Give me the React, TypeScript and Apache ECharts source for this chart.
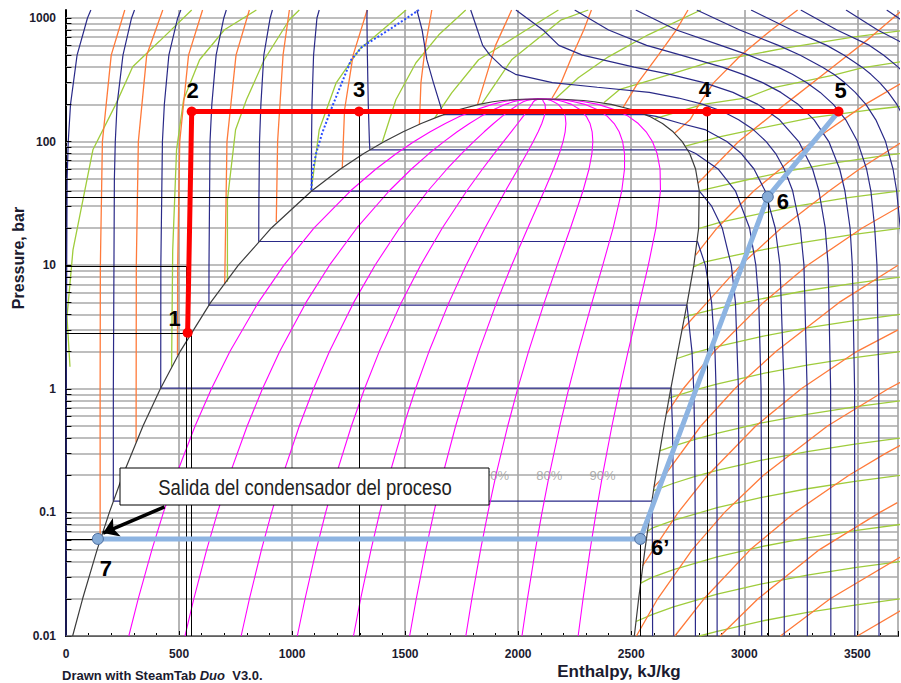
import React, { useEffect, useRef } from "react";
import * as echarts from "echarts";

const FONT = '"Liberation Sans", Arial, Helvetica, sans-serif';

// ---------------- axes ----------------
const H_MIN = 0;
const H_MAX = 3680;
const P_MIN = 0.01;
const P_MAX = 1160;
const xTickStep = 500;
const yLabelValues = [0.01, 0.1, 1, 10, 100, 1000];
const yLabelTexts = ["0.01", "0.1", "1", "10", "100", "1000"];
const yGridValues = [
  0.01, 0.02, 0.03, 0.04, 0.05, 0.06, 0.07, 0.08, 0.09,
  0.1, 0.2, 0.3, 0.4, 0.5, 0.6, 0.7, 0.8, 0.9,
  1, 2, 3, 4, 5, 6, 7, 8, 9,
  10, 20, 30, 40, 50, 60, 70, 80, 90,
  100, 200, 300, 400, 500, 600, 700, 800, 900,
  1000,
];

// ---------------- saturation dome (P bar, hf, hg kJ/kg) ----------------
const satP = [0.01, 0.02, 0.05, 0.1, 0.2, 0.5, 1, 2, 5, 10, 20, 40, 60, 80, 100, 120, 140, 160, 180, 200, 210, 215, 220, 220.64];
const satHf = [29.3, 73.4, 137.8, 191.8, 251.4, 340.5, 417.5, 504.7, 640.1, 762.5, 908.5, 1087.4, 1213.9, 1317.1, 1408.1, 1491.5, 1571.0, 1649.4, 1732.0, 1826.6, 1888, 1930, 2016, 2084];
const satHg = [2513.7, 2532.9, 2560.7, 2583.9, 2608.9, 2645.2, 2674.9, 2706.2, 2748.1, 2777.1, 2798.3, 2800.8, 2784.6, 2758.7, 2725.5, 2685.4, 2638.1, 2580.8, 2509.5, 2411.4, 2336, 2289, 2196, 2084];
const qualities = [0.1, 0.2, 0.3, 0.4, 0.5, 0.6, 0.7, 0.8, 0.9];
const qualityLabelP = 0.2;

// ---------------- isotherms [h, P] ----------------
const isoT0 = [[0, 0.01], [0.5, 1], [5, 50], [10, 100], [20, 200], [49, 500], [95, 1000], [110, 1160]];
const isoT50 = [[303, 1160], [290, 1000], [252, 500], [226, 200], [218, 100], [214, 50], [209.4, 1], [209.3, 0.1235], [2592.2, 0.1235], [2594, 0.05], [2594.5, 0.01]];
const isoT100 = [[508, 1160], [494, 1000], [455, 500], [435, 200], [426.5, 100], [419.5, 10], [419, 1.014], [2676, 1.014], [2682.5, 0.5], [2687.5, 0.1], [2688, 0.01]];
const isoT150 = [[709, 1160], [698, 1000], [664, 500], [645, 200], [637, 100], [632.5, 10], [632.2, 4.76], [2746.5, 4.76], [2768.8, 2], [2776.4, 1], [2780, 0.5], [2783, 0.1], [2784, 0.01]];
const isoT200 = [[913, 1160], [903, 1000], [875, 500], [862, 200], [856, 100], [853, 30], [852.4, 15.54], [2793, 15.54], [2827.9, 10], [2855.4, 5], [2870.5, 2], [2875.3, 1], [2879.5, 0.1], [2880, 0.01]];
const isoT250 = [[1120, 1160], [1110, 1000], [1095, 500], [1088, 200], [1086, 100], [1085.8, 39.76], [2801.5, 39.76], [2855.8, 30], [2902.5, 20], [2942.6, 10], [2961, 5], [2974.3, 1], [2977, 0.1], [2977.5, 0.01]];
const isoT300 = [[1332, 1160], [1331, 1000], [1333, 500], [1337, 200], [1342, 100], [1344, 85.81], [2749, 85.81], [2785, 80], [2884, 60], [2960.7, 40], [3023.5, 20], [3051.2, 10], [3064.2, 5], [3074.3, 1], [3076.5, 0.1], [3077, 0.01]];
const isoT350 = [[1552, 1160], [1575, 800], [1596, 460], [1625, 300], [1662, 180], [1671, 165.2], [2564, 165.2], [2610, 160], [2720, 140], [2826, 125], [2923, 100], [2987, 80], [3043, 60], [3092, 40], [3137, 20], [3158, 10], [3176, 1], [3177, 0.01]];
const isoT400 = [[1790, 1160], [1820, 800], [1843, 600], [1875, 500], [1931, 400], [1988, 350], [2151, 300], [2350, 275], [2580, 250], [2710, 225], [2818, 200], [2905, 175], [2975, 150], [3040, 125], [3097, 100], [3139, 80], [3177, 60], [3214, 40], [3248, 20], [3264, 10], [3278, 1], [3279, 0.01]];
const isoT450 = [[1990, 1160], [2110, 800], [2180, 600], [2284, 500], [2513, 400], [2672, 350], [2821, 300], [2950, 250], [3060, 200], [3156, 150], [3241, 100], [3302, 60], [3330, 40], [3358, 20], [3371, 10], [3382, 1], [3383, 0.01]];
const isoT500 = [[2250, 1160], [2400, 800], [2568, 600], [2720, 500], [2903, 400], [2994, 350], [3081, 300], [3162, 250], [3238, 200], [3309, 150], [3374, 100], [3422, 60], [3445, 40], [3468, 20], [3478, 10], [3488, 1], [3489, 0.01]];
const isoT550 = [[2520, 1160], [2700, 800], [2896, 600], [3020, 500], [3149, 400], [3213, 350], [3275, 300], [3336, 250], [3394, 200], [3449, 150], [3501, 100], [3541, 60], [3560, 40], [3577, 20], [3587, 10], [3595, 1], [3596, 0.01]];
const isoT600 = [[2790, 1160], [2980, 800], [3151, 600], [3248, 500], [3346, 400], [3396, 350], [3444, 300], [3491, 250], [3538, 200], [3582, 150], [3625, 100], [3658, 60], [3674, 40], [3690, 20], [3698, 10], [3705, 1], [3706, 0.01]];
const isoT650 = [[3030, 1160], [3210, 800], [3365, 600], [3442, 500], [3521, 400], [3560, 350], [3599, 300], [3637, 250], [3675, 200], [3712, 150], [3748, 100]];
const isoT700 = [[3250, 1160], [3410, 800], [3554, 600], [3617, 500], [3681, 400], [3714, 350], [3746, 300]];
const isoT750 = [[3450, 1160], [3590, 800], [3720, 600]];
const isoT800 = [[3630, 1160], [3700, 950]];
const isotherms = [isoT0, isoT50, isoT100, isoT150, isoT200, isoT250, isoT300, isoT350, isoT400, isoT450, isoT500, isoT550, isoT600, isoT650, isoT700, isoT750, isoT800];

// boundary drawn dotted
const dottedBoundary = [[1085, 40.7], [1089, 55.9], [1107, 81.2], [1133, 117], [1177, 191], [1261, 458], [1310, 585], [1429, 803], [1561, 1160]];

// ---------------- isentropes [h, P] ----------------
const s05 = [[151, 0.059], [151, 1], [152, 10], [161, 100], [200, 500], [260, 1160]];
const s10 = [[310, 0.37], [311, 10], [320, 100], [357, 500], [428, 1160]];
const s15 = [[493, 1.87], [494, 10], [503, 100], [542, 500], [604, 1160]];
const s20 = [[702, 7.1], [712, 100], [752, 500], [811, 1160]];
const s25 = [[930, 22.4], [936, 100], [960, 500], [988, 1160]];
const s30 = [[1222, 61], [1232, 180], [1270, 500], [1332, 1160]];
const s35 = [[1563, 138], [1570, 300], [1590, 600], [1618, 1160]];
const s40 = [[1820, 199], [1850, 300], [1900, 600], [1971, 1160]];
const s45 = [[2150, 225], [2190, 300], [2240, 500], [2290, 800], [2324, 1160]];
const s50 = [[2465, 190], [2530, 300], [2620, 500], [2700, 800], [2751, 1160]];
const s55 = [[2690, 116], [2760, 150], [2800, 200], [2865, 300], [2985, 500], [3120, 800], [3236, 1160]];
const s60 = [[2795, 46], [2975, 100], [3180, 200], [3390, 400], [3560, 700], [3700, 1160]];
const s65 = [[2784, 12], [2880, 20], [3043, 40], [3160, 60], [3300, 100], [3535, 200], [3700, 300]];
const s70 = [[2725, 3], [2836, 5], [2984, 10], [3164, 20], [3377, 40], [3510, 60], [3700, 100]];
const s75 = [[2656, 0.63], [2730, 1], [2867, 2], [3085, 5], [3280, 10], [3522, 20], [3690, 30]];
const s80 = [[2600, 0.16], [2649, 0.2], [2808, 0.5], [2958, 1], [3140, 2], [3420, 5], [3680, 10]];
const s85 = [[2550, 0.037], [2598, 0.05], [2708, 0.1], [2839, 0.2], [3051, 0.5], [3252, 1], [3497, 2], [3680, 3]];
const s90 = [[2523, 0.01], [2617, 0.02], [2770, 0.05], [2913, 0.1], [3085, 0.2], [3368, 0.5], [3637, 1], [3719, 1.2]];
const s95 = [[2693, 0.01], [2822, 0.02], [3027, 0.05], [3224, 0.1], [3463, 0.2], [3625, 0.3], [3692, 0.35]];
const s100 = [[2893, 0.01], [3061, 0.02], [3333, 0.05], [3600, 0.1], [3677, 0.12]];
const s105 = [[3160, 0.01], [3380, 0.02], [3745, 0.05]];
const s110 = [[3500, 0.01], [3780, 0.02]];
const isentropes = [s05, s10, s15, s20, s25, s30, s35, s40, s45, s50, s55, s60, s65, s70, s75, s80, s85, s90, s95, s100, s105, s110];

// ---------------- isochores [h, P] ----------------
const vL1 = [[17.6, 1.51], [4.4, 3.82], [30.9, 13.3], [119, 85.8], [220, 200], [295, 403], [414, 650], [556, 1160]];
const vL2 = [[467, 1.51], [472, 13.3], [489, 85.8], [520, 218], [591, 459], [701, 803], [842, 1160]];
const vL3 = [[714, 7.34], [714, 33.8], [750, 124.6], [798, 218], [877, 459], [988, 967], [1032, 1160]];
const vL4 = [[1085, 40.7], [1120, 124.6], [1195, 299], [1296, 553], [1504, 1160]];
const vL5 = [[1398, 97.8], [1459, 218], [1548, 434], [1649, 731], [1768, 1160]];
const vL6 = [[1631, 155.8], [1706, 248], [1825, 459], [2002, 731], [2178, 1160]];
const vL7 = [[1839, 202], [1971, 459], [2191, 967], [2310, 1160]];
const vL8 = [[2160, 218], [2266, 328], [2399, 485], [2575, 731], [2808, 1160]];
const v005 = [[2380, 207], [2450, 265], [2672, 350], [2840, 435], [3180, 570], [3480, 700], [3700, 790]];
const v001 = [[2605, 153], [2818, 200], [3010, 226], [3125, 272], [3395, 345], [3520, 395], [3720, 450]];
const v002 = [[2740, 92], [2890, 109], [3040, 125], [3300, 156], [3550, 180], [3720, 195]];
const v005b = [[2801, 40], [2945, 46], [3185, 57.5], [3415, 68], [3642, 78], [3720, 81]];
const v01 = [[2798, 19.8], [2892, 22.2], [3008, 24.7], [3231, 30], [3451, 35], [3674, 39.6], [3720, 40.5]];
const v02 = [[2776, 9.7], [2822, 10.6], [2938, 11.8], [3040, 12.9], [3255, 15.2], [3470, 17.6], [3693, 19.9]];
const v05 = [[2736, 3.7], [2755, 3.904], [2860, 4.366], [3064, 5.289], [3271, 6.212], [3483, 7.135], [3702, 8.058]];
const v1 = [[2700, 1.75], [2777, 1.952], [2875, 2.183], [3074, 2.644], [3277, 3.106], [3487, 3.567], [3704, 4.029]];
const v2 = [[2668, 0.84], [2684, 0.8607], [2780, 0.976], [2878, 1.091], [3076, 1.322], [3278, 1.553], [3488, 1.784], [3705, 2.014]];
const v5 = [[2626, 0.315], [2686, 0.3443], [2782, 0.3904], [2879, 0.4366], [3076, 0.5289], [3278, 0.6212], [3488, 0.7135], [3705, 0.8058]];
const v10 = [[2599, 0.15], [2687, 0.1721], [2783, 0.1952], [2880, 0.2183], [3077, 0.2644], [3279, 0.3106], [3489, 0.3567], [3706, 0.4029]];
const v20 = [[2571, 0.07], [2592, 0.0745], [2687, 0.0861], [2880, 0.1091], [3077, 0.1322], [3279, 0.1553], [3489, 0.1784], [3706, 0.2014]];
const v50 = [[2542, 0.0268], [2592, 0.0298], [2687, 0.0344], [2880, 0.0437], [3077, 0.0529], [3279, 0.0621], [3489, 0.0713], [3706, 0.0806]];
const v100 = [[2521, 0.0131], [2592, 0.0149], [2687, 0.0172], [2880, 0.0218], [3077, 0.0264], [3279, 0.0311], [3489, 0.0357], [3706, 0.0403]];
const v200 = [[2802, 0.01], [2880, 0.0109], [3077, 0.0132], [3279, 0.0155], [3489, 0.0178], [3706, 0.0202]];
const isochores = [vL1, vL2, vL3, vL4, vL5, vL6, vL7, vL8, v005, v001, v002, v005b, v01, v02, v05, v1, v2, v5, v10, v20, v50, v100, v200];

// ---------------- cycle states ----------------
const stateNames = ["1", "2", "3", "4", "5", "6", "6\u2019", "7"];
const stateH = [538, 556, 1296, 2835, 3417, 3104, 2540, 141];
const stateP = [2.84, 175, 175, 175, 175, 35.7, 0.061, 0.061];
const redStates = [0, 1, 2, 3, 4];
const blueStates = [4, 5, 6, 7];
// guide lines: vertical from (h,P) down to axis; horizontal from axis to (h,P)
const guideV = [[554, 2.84], [532, 9.8], [1296, 175], [2835, 175], [3104, 35.7], [2540, 0.061]];
const guideH = [[538, 2.84], [532, 9.8], [3104, 35.7], [141, 0.061]];
// annotation arrow (h, P)
const arrowFrom = [436, 0.111];
const arrowTo = [164, 0.068];
const noteText = "Salida del condensador del proceso";

// label offsets (px) of state numbers relative to their markers
const labelOffsets: Record<string, number[]> = {
  "1": [-13, -14], "2": [1, -21], "3": [0, -22], "4": [-2, -22], "5": [2, -21],
  "6": [15, 5], "6\u2019": [20, 9], "7": [8, 30],
};

const NAVY = "#2a2a88";
const ORANGE = "#ff7a3a";
const GREEN = "#9fcc3c";
const MAGENTA = "#ff00ff";

function curve(data: number[][], color: string, width: number, z = 3, type: string = "solid") {
  return {
    type: "line",
    data,
    symbol: "none",
    showSymbol: false,
    silent: true,
    clip: true,
    z,
    lineStyle: { color, width, type },
    emphasis: { disabled: true },
    animation: false,
  };
}

function buildOption() {
  const domeData = [
    ...satP.map((p, i) => [satHf[i], p]),
    ...satP.map((p, i) => [satHg[i], p]).reverse(),
  ];
  const qIdx = satP.indexOf(qualityLabelP);
  const series: any[] = [];

  series.push({
    type: "lines",
    coordinateSystem: "cartesian2d",
    silent: true,
    z: 1,
    lineStyle: { color: "#a9a9a9", width: 1.5, opacity: 1 },
    data: yGridValues.map((v) => ({ coords: [[H_MIN, v], [H_MAX, v]] })),
    animation: false,
  });
  series.push({
    type: "lines",
    coordinateSystem: "cartesian2d",
    silent: true,
    z: 5,
    lineStyle: { color: "#000", width: 1, opacity: 1 },
    data: yGridValues.map((v) => ({ coords: [[0, v], [24, v]] })),
    animation: false,
  });

  isochores.forEach((d) => series.push(curve(d, GREEN, 1.3, 2)));
  isentropes.forEach((d) => series.push(curve(d, ORANGE, 1.3, 2)));
  isotherms.forEach((d) => series.push(curve(d, NAVY, 1.2, 3)));
  series.push(curve(dottedBoundary, "#2a4dff", 2, 3, "dotted"));
  qualities.forEach((q) =>
    series.push(curve(satP.map((p, i) => [satHf[i] + q * (satHg[i] - satHf[i]), p]), MAGENTA, 1.1, 3))
  );
  series.push(curve(domeData, "#3c3c3c", 1.2, 4));

  series.push({
    type: "lines",
    coordinateSystem: "cartesian2d",
    silent: true,
    z: 5,
    lineStyle: { color: "#000", width: 1, opacity: 1 },
    data: [
      ...guideV.map(([h, p]) => ({ coords: [[h, p], [h, P_MIN]] })),
      ...guideH.map(([h, p]) => ({ coords: [[0, p], [h, p]] })),
    ],
    animation: false,
  });

  series.push({
    type: "scatter",
    silent: true,
    z: 5,
    symbolSize: 0,
    data: qualities.map((q) => [satHf[qIdx] + q * (satHg[qIdx] - satHf[qIdx]), qualityLabelP]),
    label: {
      show: true,
      position: "inside",
      formatter: (p: any) => `${Math.round(qualities[p.dataIndex] * 100)}%`,
      color: "#9a9a9a",
      fontSize: 13,
      fontFamily: FONT,
    },
    animation: false,
  });

  const stateLabel = (i: number) => ({
    show: true,
    position: "inside",
    formatter: stateNames[i],
    offset: labelOffsets[stateNames[i]],
    fontSize: 22,
    fontWeight: "bold",
    color: "#000",
    fontFamily: FONT,
  });

  series.push({
    type: "line",
    silent: true,
    z: 8,
    lineStyle: { color: "#8db4e2", width: 5 },
    data: blueStates.map((i, k) =>
      k === 0
        ? { value: [stateH[i], stateP[i]], symbol: "none" }
        : {
            value: [stateH[i], stateP[i]],
            symbol: "circle",
            symbolSize: 11,
            itemStyle: { color: "#86acd8", borderColor: "#4a6c9e", borderWidth: 1 },
            label: stateLabel(i),
          }
    ),
    markLine: {
      silent: true,
      symbol: ["none", "arrow"],
      symbolSize: 15,
      lineStyle: { color: "#000", width: 3.5, type: "solid" },
      label: { show: false },
      data: [[{ coord: arrowFrom }, { coord: arrowTo }]],
      animation: false,
    },
    animation: false,
  });

  series.push({
    type: "line",
    silent: true,
    z: 9,
    lineStyle: { color: "#ff0000", width: 5 },
    symbol: "circle",
    symbolSize: 10,
    itemStyle: { color: "#ff0000" },
    data: redStates.map((i) => ({ value: [stateH[i], stateP[i]], label: stateLabel(i) })),
    animation: false,
  });

  return {
    animation: false,
    backgroundColor: "#ffffff",
    grid: { left: 66, right: 0, top: 10, bottom: 47, containLabel: false },
    xAxis: {
      type: "value",
      min: H_MIN,
      max: H_MAX,
      interval: xTickStep,
      axisLine: { show: true, onZero: false, lineStyle: { color: "#000", width: 2 } },
      axisTick: { show: true, inside: true, length: 5, lineStyle: { color: "#000", width: 1 } },
      minorTick: { show: true, splitNumber: 5, length: 3, lineStyle: { color: "#000" } },
      splitLine: { show: true, lineStyle: { color: "#9c9c9c", width: 1.5 } },
      axisLabel: {
        formatter: (v: number) => (v % xTickStep === 0 ? String(v) : ""),
        fontWeight: "bold",
        fontSize: 12,
        color: "#1b1b2f",
        fontFamily: FONT,
        margin: 12,
      },
    },
    yAxis: {
      type: "log",
      logBase: 10,
      min: P_MIN,
      max: P_MAX,
      axisLine: { show: true, onZero: false, lineStyle: { color: "#000", width: 2 } },
      axisTick: { show: false },
      minorTick: { show: false },
      splitLine: { show: false },
      axisLabel: {
        formatter: (v: number) => {
          const i = yLabelValues.findIndex((t) => Math.abs(Math.log10(t) - Math.log10(v)) < 1e-6);
          return i >= 0 ? yLabelTexts[i] : "";
        },
        fontWeight: "bold",
        fontSize: 12,
        color: "#1b1b2f",
        fontFamily: FONT,
        margin: 10,
      },
    },
    series,
    graphic: [
      {
        type: "rect",
        z: 100,
        shape: { x: 120, y: 468, width: 369, height: 37 },
        style: { fill: "#ffffff", stroke: "#000000", lineWidth: 1 },
      },
      {
        type: "text",
        z: 101,
        x: 305,
        y: 487,
        scaleX: 0.84,
        style: {
          text: noteText,
          fontSize: 22,
          fontFamily: FONT,
          fill: "#222222",
          textAlign: "center",
          textVerticalAlign: "middle",
          align: "center",
          verticalAlign: "middle",
        },
      },
      {
        type: "text",
        z: 101,
        x: 18,
        y: 258,
        rotation: Math.PI / 2,
        style: {
          text: "Pressure, bar",
          fontSize: 16,
          fontWeight: "bold",
          fontFamily: FONT,
          fill: "#1b1b2f",
          textAlign: "center",
          textVerticalAlign: "middle",
          align: "center",
          verticalAlign: "middle",
        },
      },
      {
        type: "text",
        z: 101,
        x: 619,
        y: 671,
        style: {
          text: "Enthalpy, kJ/kg",
          fontSize: 17,
          fontWeight: "bold",
          fontFamily: FONT,
          fill: "#1b1b2f",
          textAlign: "center",
          textVerticalAlign: "middle",
          align: "center",
          verticalAlign: "middle",
        },
      },
      {
        type: "text",
        z: 101,
        x: 62,
        y: 675,
        style: {
          text: "{a|Drawn with SteamTab }{b|Duo}{a|  V3.0.}",
          textAlign: "left",
          textVerticalAlign: "middle",
          align: "left",
          verticalAlign: "middle",
          rich: {
            a: { fontSize: 13, fontWeight: "bold", fontFamily: FONT, fill: "#1b1b2f", color: "#1b1b2f" },
            b: { fontSize: 13, fontWeight: "bold", fontStyle: "italic", fontFamily: FONT, fill: "#1b1b2f", color: "#1b1b2f" },
          },
        },
      },
    ],
  };
}

export default function App() {
  const ref = useRef<HTMLDivElement>(null);
  useEffect(() => {
    if (!ref.current) return;
    const chart = echarts.init(ref.current, undefined, { renderer: "svg" });
    chart.setOption(buildOption() as any);
    return () => chart.dispose();
  }, []);
  return (
    <div
      ref={ref}
      style={{ position: "absolute", left: 0, top: 0, width: 901, height: 683, background: "#fff" }}
    />
  );
}
